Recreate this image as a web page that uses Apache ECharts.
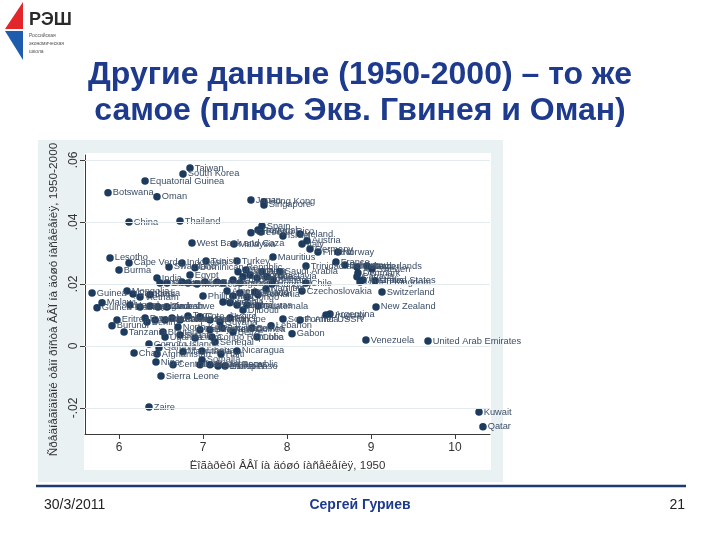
<!DOCTYPE html>
<html lang="ru">
<head>
<meta charset="UTF-8">
<title>Другие данные (1950-2000)</title>
<style>
  html, body { margin: 0; padding: 0; background: #fff; }
  #chart { width: 720px; height: 540px; }
</style>
<script src="https://cdn.jsdelivr.net/npm/echarts@6/dist/echarts.min.js"></script>
</head>
<body>
<div id="chart"></div>
<script>
// --- данные: страна, лог ВВП на душу 1950, средний рост 1950-2000 ---
var countryNames = [
  'Taiwan', 'South Korea', 'Equatorial Guinea', 'Botswana', 'Oman', 'China', 'Thailand', 'West Bank and Gaza',
  'Japan', 'Hong Kong', 'Singapore', 'Spain', 'Greece', 'Portugal', 'Puerto Rico', 'Israel',
  'Ireland', 'Austria', 'Italy', 'Malaysia', 'Germany', 'Finland', 'Norway', 'Mauritius',
  'Turkey', 'Tunisia', 'France', 'Trinidad and Tobago', 'Belgium', 'Iceland', 'Netherlands', 'Sweden',
  'Denmark', 'Canada', 'United Kingdom', 'Australia', 'United States', 'Switzerland', 'New Zealand', 'Saudi Arabia',
  'Chile', 'Czechoslovakia', 'Argentina', 'Former USSR', 'South Africa', 'Uruguay', 'Guatemala', 'Lebanon',
  'Gabon', 'Cuba', 'Bolivia', 'Venezuela', 'United Arab Emirates', 'Kuwait', 'Qatar', 'Nicaragua',
  'Haiti', 'Senegal', 'Liberia', 'Somalia', 'Mali', 'Madagascar', 'Burkina Faso', 'Ethiopia',
  'Central African Republic', 'Niger', 'Chad', 'Afghanistan', 'Sierra Leone', 'Zaire', 'Comoro Islands', 'Gambia',
  'Mauritania', 'Uganda', 'Sudan', 'Tanzania', 'Burundi', 'Eritrea', 'Malawi', 'Guinea',
  'Guinea-Bissau', 'Mongolia', 'Cambodia', 'Lesotho', 'Cape Verde', 'Burma', 'Swaziland', 'Indonesia',
  'India', 'Egypt', 'Dominican Republic', 'Pakistan', 'Sri Lanka', 'Syria', 'Jordan', 'Morocco',
  'Iran', 'Brazil', 'Paraguay', 'Ecuador', 'Panama', 'Costa Rica', 'Mexico', 'Colombia',
  'Yugoslavia', 'Bulgaria', 'Hungary', 'Albania', 'Jamaica', 'Peru', 'Philippines', 'Algeria',
  'Iraq', 'El Salvador', 'Congo', 'Poland', 'Romania', 'Namibia', 'Vietnam', 'Laos',
  'Nepal', 'Kenya', 'Bangladesh', 'Ghana', 'Zimbabwe', 'Nigeria', 'Angola', 'Zambia',
  'Honduras', 'Djibouti', 'Rwanda', 'Benin', 'Mozambique', 'Sao Tome and Principe', 'Yemen', 'Cameroon',
  'Togo', "Cote d'Ivoire", 'Reunion', 'Guyana', 'Fiji', 'North Korea', 'Bhutan', 'Papua New Guinea',
  'Seychelles', 'Suriname', 'Belize', 'Congo Republic', 'Libya'
];

var logGdp1950 = [
  6.845, 6.762, 6.310, 5.869, 6.452, 6.119, 6.726, 6.869,
  7.571, 7.726, 7.726, 7.702, 7.571, 7.655, 7.690, 7.952,
  8.155, 8.238, 8.179, 7.369, 8.274, 8.369, 8.607, 7.833,
  7.405, 7.036, 8.583, 8.226, 8.690, 8.833, 8.952, 9.012,
  8.845, 8.833, 8.869, 8.905, 9.048, 9.131, 9.060, 7.917,
  8.226, 8.179, 8.512, 8.155, 7.952, 8.464, 7.655, 7.810,
  8.060, 7.643, 7.583, 8.940, 9.679, 10.286, 10.333, 7.405,
  7.214, 7.143, 6.988, 6.988, 6.964, 7.083, 7.179, 7.262,
  6.643, 6.440, 6.179, 6.452, 6.500, 6.357, 6.357, 6.476,
  6.762, 6.548, 6.726, 6.060, 5.917, 5.976, 5.798, 5.679,
  5.738, 6.095, 6.167, 5.893, 6.119, 6.000, 6.595, 6.750,
  6.452, 6.845, 6.905, 6.488, 6.571, 6.750, 6.821, 6.929,
  7.024, 7.167, 7.238, 7.357, 7.440, 7.476, 7.560, 7.643,
  7.762, 7.833, 7.821, 7.417, 7.512, 7.702, 7.000, 7.286,
  7.357, 7.440, 7.524, 7.619, 7.655, 7.750, 6.250, 6.369,
  6.131, 6.250, 6.369, 6.464, 6.571, 7.238, 7.321, 7.405,
  7.524, 7.476, 6.310, 6.333, 6.429, 6.548, 6.631, 6.726,
  6.821, 6.964, 7.083, 7.202, 7.321, 6.702, 6.524, 6.964,
  7.083, 7.226, 7.357, 7.107, 6.905
];

var growth5000 = [
  0.0574, 0.0555, 0.0532, 0.0494, 0.0481, 0.0400, 0.0403, 0.0332,
  0.0471, 0.0465, 0.0455, 0.0387, 0.0365, 0.0374, 0.0368, 0.0355,
  0.0361, 0.0339, 0.0329, 0.0329, 0.0313, 0.0303, 0.0303, 0.0287,
  0.0274, 0.0274, 0.0271, 0.0258, 0.0261, 0.0255, 0.0258, 0.0248,
  0.0235, 0.0223, 0.0206, 0.0213, 0.0210, 0.0174, 0.0126, 0.0239,
  0.0203, 0.0177, 0.0103, 0.0084, 0.0087, 0.0100, 0.0129, 0.0065,
  0.0039, 0.0029, 0.0058, 0.0019, 0.0016, -0.0213, -0.0261, -0.0016,
  -0.0026, 0.0013, -0.0016, -0.0045, -0.0061, -0.0061, -0.0065, -0.0065,
  -0.0061, -0.0052, -0.0023, -0.0026, -0.0097, -0.0197, 0.0006, -0.0006,
  -0.0019, 0.0029, 0.0035, 0.0045, 0.0065, 0.0084, 0.0139, 0.0171,
  0.0123, 0.0177, 0.0168, 0.0284, 0.0268, 0.0245, 0.0255, 0.0268,
  0.0219, 0.0229, 0.0252, 0.0203, 0.0203, 0.0206, 0.0203, 0.0200,
  0.0206, 0.0206, 0.0203, 0.0213, 0.0203, 0.0223, 0.0229, 0.0219,
  0.0223, 0.0213, 0.0200, 0.0239, 0.0245, 0.0239, 0.0161, 0.0177,
  0.0161, 0.0171, 0.0158, 0.0174, 0.0165, 0.0184, 0.0158, 0.0165,
  0.0132, 0.0126, 0.0129, 0.0126, 0.0126, 0.0142, 0.0139, 0.0132,
  0.0132, 0.0116, 0.0090, 0.0077, 0.0084, 0.0084, 0.0090, 0.0084,
  0.0097, 0.0094, 0.0084, 0.0077, 0.0090, 0.0061, 0.0045, 0.0052,
  0.0052, 0.0058, 0.0045, 0.0029, 0.0026
];

var xTicks = [6, 7, 8, 9, 10];
var yTicks = [-0.02, 0, 0.02, 0.04, 0.06];

var titleLines = ['Другие данные (1950-2000) – то же', 'самое (плюс Экв. Гвинея и Оман)'];
var xName = 'Ëîãàðèôì ÂÂÏ íà äóøó íàñåëåíèÿ, 1950';
var yName = 'Ñðåäíåãîäîâîé òåìï ðîñòà ÂÂÏ íà äóøó íàñåëåíèÿ, 1950-2000';

var points = logGdp1950.map(function (x, i) { return [x, growth5000[i]]; });

var navy = '#1c3b5f';
var labelFont = 'Liberation Sans, Arial, sans-serif';

function fmtY(v) {
    if (v === 0) return '0';
    return (v < 0 ? '-' : '') + Math.abs(v).toFixed(2).replace(/^0/, '');
}

var chart = echarts.init(document.getElementById('chart'));

var option = {
    backgroundColor: '#ffffff',
    animation: false,
    textStyle: { fontFamily: labelFont },
    grid: { left: 85, right: 230, top: 155, bottom: 106 },
    xAxis: {
        type: 'value',
        min: 5.595,
        max: 10.417,
        name: xName,
        nameLocation: 'middle',
        nameGap: 26,
        nameTextStyle: { fontSize: 11.5, color: '#333' },
        axisLine: { show: true, onZero: false, lineStyle: { color: '#3a3a3a', width: 1 } },
        axisTick: { show: true, customValues: xTicks, length: 5, lineStyle: { color: '#3a3a3a' } },
        axisLabel: { customValues: xTicks, fontSize: 12, color: '#333', margin: 8 },
        splitLine: { show: false }
    },
    yAxis: {
        type: 'value',
        min: -0.0284,
        max: 0.0616,
        name: yName,
        nameLocation: 'middle',
        nameGap: 19,
        nameTextStyle: { fontSize: 11.8, color: '#333', padding: [0, 10, 0, 0] },
        axisLine: { show: true, onZero: false, lineStyle: { color: '#3a3a3a', width: 1 } },
        axisTick: { show: true, customValues: yTicks, length: 5, lineStyle: { color: '#3a3a3a' } },
        axisLabel: { customValues: yTicks, fontSize: 12, color: '#333', rotate: 90, margin: 5, formatter: fmtY },
        splitLine: { show: false }
    },
    series: [{
        type: 'scatter',
        data: points,
        symbolSize: 7.5,
        itemStyle: { color: navy, opacity: 1 },
        label: {
            show: true,
            position: 'right',
            distance: 1,
            fontSize: 9.3,
            color: '#3b4e66',
            formatter: function (p) { return countryNames[p.dataIndex]; }
        },
        markLine: {
            silent: true,
            symbol: 'none',
            label: { show: false },
            lineStyle: { color: '#e3ebee', width: 1, type: 'solid' },
            data: yTicks.map(function (v) { return { yAxis: v }; })
        },
        z: 3
    }],
    graphic: [
        // серый фон вокруг графика (как у Stata)
        { type: 'rect', z: -20, silent: true, shape: { x: 38, y: 140, width: 465, height: 342 }, style: { fill: '#eaf1f3' } },
        { type: 'rect', z: -19, silent: true, shape: { x: 84, y: 153, width: 407, height: 317 }, style: { fill: '#ffffff' } },
        // логотип
        { type: 'polygon', silent: true, shape: { points: [[5, 29], [23, 2], [23, 29]] }, style: { fill: '#e3262b' } },
        { type: 'polygon', silent: true, shape: { points: [[5, 31], [23, 31], [23, 60]] }, style: { fill: '#1f5cae' } },
        { type: 'text', silent: true, x: 29, y: 11, style: { text: 'РЭШ', font: 'bold 18px Liberation Sans, Arial, sans-serif', fill: '#2a2a2a' } },
        { type: 'text', silent: true, x: 29, y: 33, style: { text: 'Российская', font: '5px Liberation Sans, Arial, sans-serif', fill: '#555' } },
        { type: 'text', silent: true, x: 29, y: 41, style: { text: 'экономическая', font: '5px Liberation Sans, Arial, sans-serif', fill: '#555' } },
        { type: 'text', silent: true, x: 29, y: 49, style: { text: 'школа', font: '5px Liberation Sans, Arial, sans-serif', fill: '#555' } },
        // заголовок
        { type: 'text', silent: true, x: 360, y: 75, style: { text: titleLines[0], font: 'bold 32px Liberation Sans, Arial, sans-serif', fill: '#1d3a8c', align: 'center', verticalAlign: 'middle' } },
        { type: 'text', silent: true, x: 360, y: 111, style: { text: titleLines[1], font: 'bold 32px Liberation Sans, Arial, sans-serif', fill: '#1d3a8c', align: 'center', verticalAlign: 'middle' } },
        // подвал
        { type: 'line', silent: true, shape: { x1: 36, y1: 486, x2: 686, y2: 486 }, style: { stroke: '#1f3a6b', lineWidth: 2.5 } },
        { type: 'text', silent: true, x: 44, y: 505, style: { text: '30/3/2011', font: '14px Liberation Sans, Arial, sans-serif', fill: '#222', verticalAlign: 'middle' } },
        { type: 'text', silent: true, x: 360, y: 505, style: { text: 'Сергей Гуриев', font: 'bold 14px Liberation Sans, Arial, sans-serif', fill: '#1d3a8c', align: 'center', verticalAlign: 'middle' } },
        { type: 'text', silent: true, x: 685, y: 505, style: { text: '21', font: '14px Liberation Sans, Arial, sans-serif', fill: '#222', align: 'right', verticalAlign: 'middle' } }
    ]
};

chart.setOption(option);
</script>
</body>
</html>
